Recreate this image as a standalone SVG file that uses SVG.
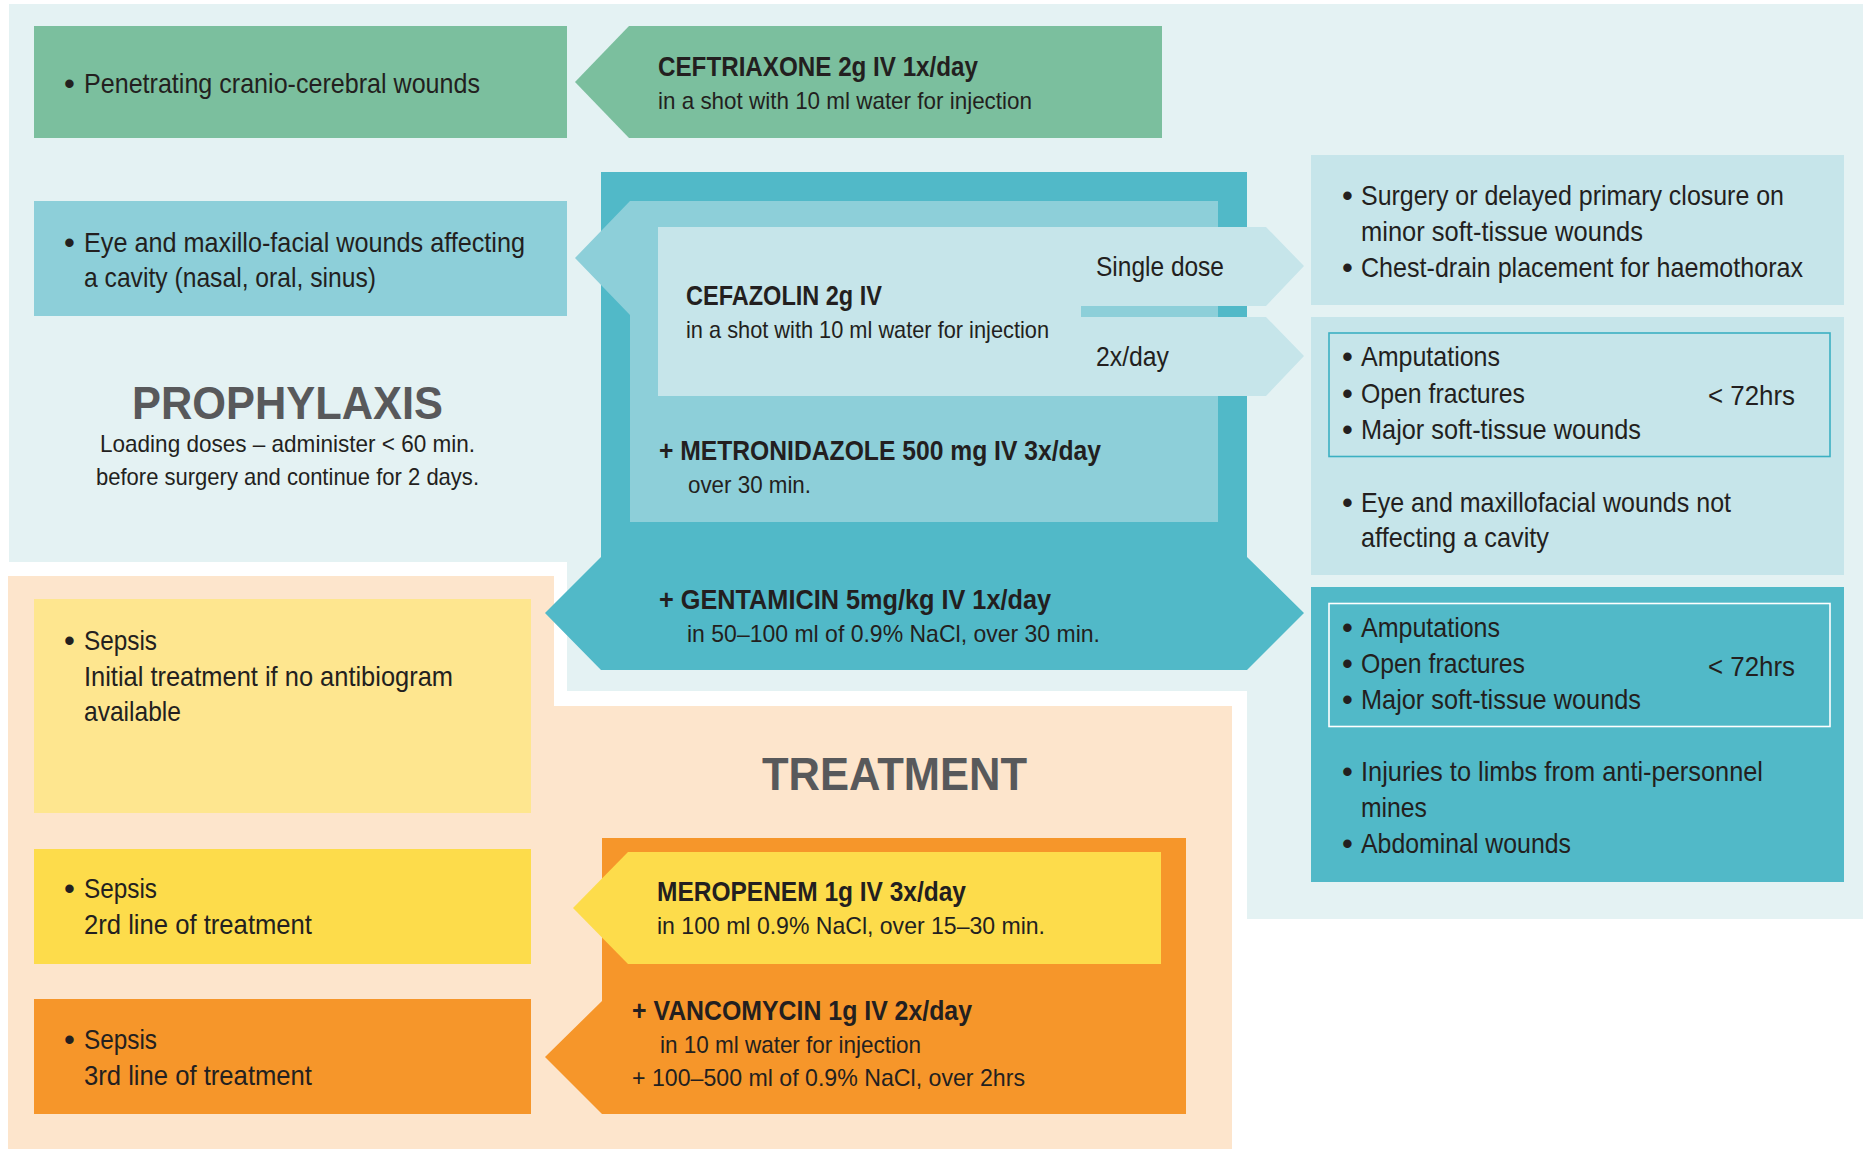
<svg xmlns="http://www.w3.org/2000/svg" width="1863" height="1149" viewBox="0 0 1863 1149">
<style>
text{font-family:"Liberation Sans",Arial,sans-serif;fill:#231f20}
.t{font-size:28px}
.s{font-size:24px}
.b{font-weight:bold}
.h{font-size:47px;font-weight:bold;fill:#58595b}
.bul{font-size:31px}
.bgl{fill:#e4f2f3}
.peach{fill:#fde5cc}
.green{fill:#7bbf9e}
.mid{fill:#8dcfd9}
.teal{fill:#51b9c8}
.pale{fill:#c6e5ea}
.lyel{fill:#fee68f}
.yel{fill:#fddc4b}
.org{fill:#f6962a}
</style>
<rect width="1863" height="1149" fill="#ffffff"/>
<g id="backgrounds">
<polygon class="bgl" points="9,4 1863,4 1863,919 1247,919 1247,691 567,691 567,562 9,562"/>
<polygon class="peach" points="8,576 554,576 554,706 1232,706 1232,1149 8,1149"/>
</g>
<g id="connectors"></g>

<g id="prophylaxis-title">
<text class="h" x="132" y="419" textLength="311" lengthAdjust="spacingAndGlyphs">PROPHYLAXIS</text>
<text class="s" x="100" y="452" textLength="375" lengthAdjust="spacingAndGlyphs">Loading doses – administer &lt; 60 min.</text>
<text class="s" x="96" y="485" textLength="383" lengthAdjust="spacingAndGlyphs">before surgery and continue for 2 days.</text>
</g>

<g id="ind-cranio">
<rect class="green" x="34" y="26" width="533" height="112"/>
<text class="bul" x="64" y="94">•</text>
<text class="t" x="84" y="93" textLength="396" lengthAdjust="spacingAndGlyphs">Penetrating cranio-cerebral wounds</text>
</g>

<g id="drug-ceftriaxone">
<polygon class="green" points="629,26 1162,26 1162,138 629,138 575,82"/>
<text class="t b" x="658" y="76" textLength="320" lengthAdjust="spacingAndGlyphs">CEFTRIAXONE 2g IV 1x/day</text>
<text class="s" x="658" y="109" textLength="374" lengthAdjust="spacingAndGlyphs">in a shot with 10 ml water for injection</text>
</g>

<g id="ind-eye-cavity">
<rect class="mid" x="34" y="201" width="533" height="115"/>
<text class="bul" x="64" y="253">•</text>
<text class="t" x="84" y="252" textLength="441" lengthAdjust="spacingAndGlyphs">Eye and maxillo-facial wounds affecting</text>
<text class="t" x="84" y="287" textLength="292" lengthAdjust="spacingAndGlyphs">a cavity (nasal, oral, sinus)</text>
</g>

<g id="drug-gentamicin">
<polygon class="teal" points="601,172 1247,172 1247,557 1304,613 1247,670 601,670 545,613 601,557"/>
<text class="t b" x="659" y="609" textLength="392" lengthAdjust="spacingAndGlyphs">+ GENTAMICIN 5mg/kg IV 1x/day</text>
<text class="s" x="687" y="642" textLength="413" lengthAdjust="spacingAndGlyphs">in 50–100 ml of 0.9% NaCl, over 30 min.</text>
</g>

<g id="drug-metronidazole">
<polygon class="mid" points="630,201 1218,201 1218,522 630,522 630,315 575,258"/>
<text class="t b" x="659" y="460" textLength="442" lengthAdjust="spacingAndGlyphs">+ METRONIDAZOLE 500 mg IV 3x/day</text>
<text class="s" x="688" y="493" textLength="123" lengthAdjust="spacingAndGlyphs">over 30 min.</text>
</g>

<g id="drug-cefazolin">
<polygon class="pale" points="658,227 1266,227 1304,266 1266,306 1081,306 1081,317 1266,317 1304,356 1266,396 658,396"/>
<text class="t b" x="686" y="305" textLength="196" lengthAdjust="spacingAndGlyphs">CEFAZOLIN 2g IV</text>
<text class="s" x="686" y="338" textLength="363" lengthAdjust="spacingAndGlyphs">in a shot with 10 ml water for injection</text>
<text class="t" x="1096" y="276" textLength="128" lengthAdjust="spacingAndGlyphs">Single dose</text>
<text class="t" x="1096" y="366" textLength="73" lengthAdjust="spacingAndGlyphs">2x/day</text>
</g>

<g id="ind-single-dose">
<rect class="pale" x="1311" y="155" width="533" height="150"/>
<text class="bul" x="1342" y="206">•</text>
<text class="t" x="1361" y="205" textLength="423" lengthAdjust="spacingAndGlyphs">Surgery or delayed primary closure on</text>
<text class="t" x="1361" y="241" textLength="282" lengthAdjust="spacingAndGlyphs">minor soft-tissue wounds</text>
<text class="bul" x="1342" y="278">•</text>
<text class="t" x="1361" y="277" textLength="442" lengthAdjust="spacingAndGlyphs">Chest-drain placement for haemothorax</text>
</g>

<g id="ind-2xday">
<rect class="pale" x="1311" y="317" width="533" height="258"/>
<rect x="1329" y="333" width="501" height="123.5" fill="none" stroke="#3bb0c2" stroke-width="1.6"/>
<text class="bul" x="1342" y="367">•</text>
<text class="t" x="1361" y="366" textLength="139" lengthAdjust="spacingAndGlyphs">Amputations</text>
<text class="bul" x="1342" y="404">•</text>
<text class="t" x="1361" y="403" textLength="164" lengthAdjust="spacingAndGlyphs">Open fractures</text>
<text class="bul" x="1342" y="440">•</text>
<text class="t" x="1361" y="439" textLength="280" lengthAdjust="spacingAndGlyphs">Major soft-tissue wounds</text>
<text class="t" x="1708" y="405" textLength="87" lengthAdjust="spacingAndGlyphs">&lt; 72hrs</text>
<text class="bul" x="1342" y="513">•</text>
<text class="t" x="1361" y="512" textLength="370" lengthAdjust="spacingAndGlyphs">Eye and maxillofacial wounds not</text>
<text class="t" x="1361" y="547" textLength="188" lengthAdjust="spacingAndGlyphs">affecting a cavity</text>
</g>

<g id="ind-gentamicin">
<rect class="teal" x="1311" y="587" width="533" height="295"/>
<rect x="1329" y="603.5" width="501" height="123" fill="none" stroke="#ffffff" stroke-width="1.6"/>
<text class="bul" x="1342" y="638">•</text>
<text class="t" x="1361" y="637" textLength="139" lengthAdjust="spacingAndGlyphs">Amputations</text>
<text class="bul" x="1342" y="674">•</text>
<text class="t" x="1361" y="673" textLength="164" lengthAdjust="spacingAndGlyphs">Open fractures</text>
<text class="bul" x="1342" y="710">•</text>
<text class="t" x="1361" y="709" textLength="280" lengthAdjust="spacingAndGlyphs">Major soft-tissue wounds</text>
<text class="t" x="1708" y="676" textLength="87" lengthAdjust="spacingAndGlyphs">&lt; 72hrs</text>
<text class="bul" x="1342" y="782">•</text>
<text class="t" x="1361" y="781" textLength="402" lengthAdjust="spacingAndGlyphs">Injuries to limbs from anti-personnel</text>
<text class="t" x="1361" y="817" textLength="66" lengthAdjust="spacingAndGlyphs">mines</text>
<text class="bul" x="1342" y="854">•</text>
<text class="t" x="1361" y="853" textLength="210" lengthAdjust="spacingAndGlyphs">Abdominal wounds</text>
</g>

<g id="treatment-title">
<text class="h" x="762" y="790" textLength="265" lengthAdjust="spacingAndGlyphs">TREATMENT</text>
</g>

<g id="ind-sepsis-initial">
<rect class="lyel" x="34" y="599" width="497" height="214"/>
<text class="bul" x="64" y="651">•</text>
<text class="t" x="84" y="650" textLength="73" lengthAdjust="spacingAndGlyphs">Sepsis</text>
<text class="t" x="84" y="686" textLength="369" lengthAdjust="spacingAndGlyphs">Initial treatment if no antibiogram</text>
<text class="t" x="84" y="721" textLength="97" lengthAdjust="spacingAndGlyphs">available</text>
</g>

<g id="ind-sepsis-2nd">
<rect class="yel" x="34" y="849" width="497" height="115"/>
<text class="bul" x="64" y="899">•</text>
<text class="t" x="84" y="898" textLength="73" lengthAdjust="spacingAndGlyphs">Sepsis</text>
<text class="t" x="84" y="934" textLength="228" lengthAdjust="spacingAndGlyphs">2rd line of treatment</text>
</g>

<g id="ind-sepsis-3rd">
<rect class="org" x="34" y="999" width="497" height="115"/>
<text class="bul" x="64" y="1050">•</text>
<text class="t" x="84" y="1049" textLength="73" lengthAdjust="spacingAndGlyphs">Sepsis</text>
<text class="t" x="84" y="1085" textLength="228" lengthAdjust="spacingAndGlyphs">3rd line of treatment</text>
</g>

<g id="drug-vancomycin">
<polygon class="org" points="602,838 1186,838 1186,1114 602,1114 545,1057 602,1001"/>
<text class="t b" x="632" y="1020" textLength="340" lengthAdjust="spacingAndGlyphs">+ VANCOMYCIN 1g IV 2x/day</text>
<text class="s" x="660" y="1053" textLength="261" lengthAdjust="spacingAndGlyphs">in 10 ml water for injection</text>
<text class="s" x="632" y="1086" textLength="393" lengthAdjust="spacingAndGlyphs">+ 100–500 ml of 0.9% NaCl, over 2hrs</text>
</g>

<g id="drug-meropenem">
<polygon class="yel" points="628,852 1161,852 1161,964 628,964 573,908"/>
<text class="t b" x="657" y="901" textLength="309" lengthAdjust="spacingAndGlyphs">MEROPENEM 1g IV 3x/day</text>
<text class="s" x="657" y="934" textLength="388" lengthAdjust="spacingAndGlyphs">in 100 ml 0.9% NaCl, over 15–30 min.</text>
</g>
</svg>
